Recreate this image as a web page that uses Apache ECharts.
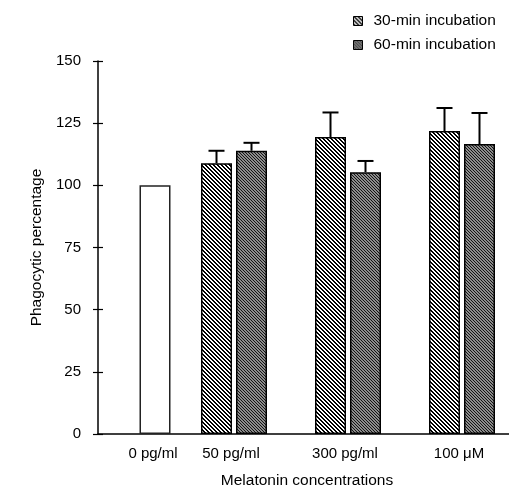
<!DOCTYPE html>
<html>
<head>
<meta charset="utf-8">
<script src="https://cdn.jsdelivr.net/npm/echarts@6/dist/echarts.min.js"></script>
<style>
  html, body { margin: 0; padding: 0; background: #fff; }
  #chart { width: 509px; height: 487px; }
</style>
</head>
<body>
<div id="chart"></div>
<script>
// Phagocytic percentage of cells exposed to melatonin
const categories = ['0 pg/ml', '50 pg/ml', '300 pg/ml', '100 \u03bcM'];
const controlValues = [100, null, null, null];
const min30Values = [null, 108.9, 119.4, 121.8];
const min30ErrTop = [null, 113.9, 129.3, 131.1];
const min60Values = [null, 113.9, 105.3, 116.6];
const min60ErrTop = [null, 117.1, 109.8, 129.1];
const yTicks = [0, 25, 50, 75, 100, 125, 150];

const FONT = '"Liberation Sans", Arial, Helvetica, sans-serif';
const TICK_FS = 15;
const TITLE_FS = 15.5;
const BAR_W = 31;
const BAR_GAP = 4;

// Diagonal hatch tiles for the two incubation times
function hatch(size, stripe, ink, paper) {
  const c = document.createElement('canvas');
  c.width = size; c.height = size;
  const ctx = c.getContext('2d');
  const img = ctx.createImageData(size, size);
  for (let y = 0; y < size; y++) {
    for (let x = 0; x < size; x++) {
      const k = ((x - y) % size + size) % size;
      const col = k < stripe ? ink : paper;
      const i = (y * size + x) * 4;
      img.data[i] = col[0]; img.data[i + 1] = col[1]; img.data[i + 2] = col[2]; img.data[i + 3] = 255;
    }
  }
  ctx.putImageData(img, 0, 0);
  return c;
}
const hatch30 = { image: hatch(4, 2, [0, 0, 0], [255, 255, 255]), repeat: 'repeat' };
const hatch60 = { image: hatch(3, 1, [20, 20, 20], [140, 140, 140]), repeat: 'repeat' };

// Offsets of the pair inside each band (group of four slots, first two used)
const slot = BAR_W + BAR_GAP;
const off30 = -1.5 * slot;
const off60 = -0.5 * slot;
const gapPct = (BAR_GAP / BAR_W * 100) + '%';

function errorSeries(values, tops, offset) {
  const data = [];
  values.forEach((v, i) => { if (v != null) data.push([i, v, tops[i]]); });
  return {
    type: 'custom',
    xAxisIndex: 0, yAxisIndex: 0,
    silent: true, z: 1,
    data: data,
    renderItem: function (params, api) {
      const base = api.coord([api.value(0), api.value(1)]);
      const top = api.coord([api.value(0), api.value(2)]);
      const x = base[0] + offset;
      const style = { stroke: '#000', lineWidth: 2 };
      return {
        type: 'group',
        children: [
          { type: 'line', shape: { x1: x, y1: base[1], x2: x, y2: top[1] }, style: style },
          { type: 'line', shape: { x1: x - 8, y1: top[1], x2: x + 8, y2: top[1] }, style: style }
        ]
      };
    }
  };
}

const chart = echarts.init(document.getElementById('chart'), null, { renderer: 'canvas' });

const labelRich = {
  c: { fontFamily: FONT, fontSize: TICK_FS, color: '#000', padding: [0, 4, 0, 0] },
  s: { fontFamily: FONT, fontSize: TICK_FS, color: '#000', padding: [0, 76, 0, 0] }
};

chart.setOption({
  animation: false,
  backgroundColor: '#fff',
  textStyle: { fontFamily: FONT },
  legend: {
    data: ['30-min incubation', '60-min incubation'],
    orient: 'vertical',
    left: 348, top: 8,
    itemWidth: 9, itemHeight: 9, itemGap: 8,
    icon: 'rect',
    textStyle: { fontFamily: FONT, fontSize: TITLE_FS, color: '#000', padding: [0, 0, 0, 6] },
    itemStyle: { borderColor: '#000', borderWidth: 1 }
  },
  // band width 114px: the plot runs past the right edge of the page
  grid: { left: 98, top: 61, bottom: 53, width: 456, containLabel: false, outerBoundsMode: 'none' },
  xAxis: [
    {
      type: 'category', data: categories,
      axisLine: { show: true, lineStyle: { color: '#000', width: 1.5 } },
      axisTick: { show: false },
      axisLabel: {
        margin: 12,
        formatter: function (v, i) { return i === 0 ? '{c|' + v + '}' : '{s|' + v + '}'; },
        rich: labelRich
      },
      name: 'Melatonin concentrations',
      nameLocation: 'middle', nameGap: 39,
      nameTextStyle: { fontFamily: FONT, fontSize: TITLE_FS, color: '#000', padding: [0, 38, 0, 0] }
    },
    { type: 'category', data: categories, show: false }
  ],
  yAxis: [
    {
      type: 'value', min: 0, max: 150, interval: 25,
      axisLine: { show: true, lineStyle: { color: '#000', width: 1.5 } },
      axisTick: { show: true, length: 5, lineStyle: { color: '#000', width: 1.2 } },
      axisLabel: {
        margin: 17, color: '#000', fontFamily: FONT, fontSize: TICK_FS,
        formatter: function (v) { return yTicks.indexOf(v) >= 0 ? String(v) : ''; }
      },
      splitLine: { show: false },
      name: 'Phagocytic percentage',
      nameLocation: 'middle', nameGap: 50,
      nameTextStyle: { fontFamily: FONT, fontSize: TITLE_FS, color: '#000' }
    },
    {
      type: 'value', min: 0, max: 150, interval: 25, position: 'left',
      axisLine: { show: false },
      axisTick: { show: true, inside: true, length: 5, lineStyle: { color: '#000', width: 1.2 } },
      axisLabel: { show: false },
      splitLine: { show: false }
    }
  ],
  series: [
    {
      name: '30-min incubation', type: 'bar', xAxisIndex: 0, yAxisIndex: 0,
      data: min30Values, barWidth: BAR_W, barGap: gapPct,
      itemStyle: { color: hatch30, borderColor: '#000', borderWidth: 1.5 }
    },
    {
      name: '60-min incubation', type: 'bar', xAxisIndex: 0, yAxisIndex: 0,
      data: min60Values, barWidth: BAR_W, barGap: gapPct,
      itemStyle: { color: hatch60, borderColor: '#000', borderWidth: 1.5 }
    },
    // two empty slots so each pair sits left of its band centre
    { name: 'slot3', type: 'bar', xAxisIndex: 0, yAxisIndex: 0, data: [null, null, null, null], barWidth: BAR_W, barGap: gapPct },
    { name: 'slot4', type: 'bar', xAxisIndex: 0, yAxisIndex: 0, data: [null, null, null, null], barWidth: BAR_W, barGap: gapPct },
    {
      name: 'Control', type: 'bar', xAxisIndex: 1, yAxisIndex: 0,
      data: controlValues, barWidth: BAR_W,
      itemStyle: { color: '#fff', borderColor: '#222', borderWidth: 1.5 }
    },
    errorSeries(min30Values, min30ErrTop, off30),
    errorSeries(min60Values, min60ErrTop, off60)
  ]
});
</script>
</body>
</html>
